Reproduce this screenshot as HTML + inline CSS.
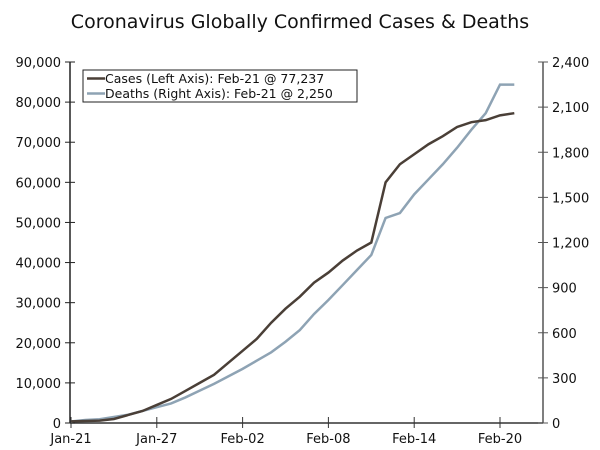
<!DOCTYPE html>
<html><head><meta charset="utf-8"><style>body{margin:0;background:#fff}svg{display:block;font-family:"DejaVu Sans","Liberation Sans",sans-serif}</style></head>
<body>
<svg id="c" width="600" height="450">
<text x="300" y="28" text-anchor="middle" font-size="19" fill="#111">Coronavirus Globally Confirmed Cases &amp; Deaths</text>
</svg>
<script>
const dates=["Jan-21","Jan-27","Feb-02","Feb-08","Feb-14","Feb-20"];
const leftTicks=[0,10000,20000,30000,40000,50000,60000,70000,80000,90000];
const rightTicks=[0,300,600,900,1200,1500,1800,2100,2400];
const cases=[400,500,600,1000,2000,3000,4500,6000,8000,10000,12000,15000,18000,21000,25000,28500,31500,35000,37500,40500,43000,45000,60000,64500,67000,69500,71500,73800,75000,75500,76700,77237];
const deaths=[10,20,25,40,55,80,105,130,170,215,260,310,360,415,470,540,618,725,818,917,1017,1117,1363,1396,1520,1620,1720,1830,1950,2060,2250,2250];
const svg=document.getElementById('c');const NS='http://www.w3.org/2000/svg';
const L=70,R=543,T=62,B=423;
const x=d=>L+1+d*14.3;
const yl=v=>B-(v/90000)*(B-T);
const yr=v=>B-(v/2400)*(B-T);
function mk(t,a,p){const e=document.createElementNS(NS,t);for(const k in a)e.setAttribute(k,a[k]);(p||svg).appendChild(e);return e;}
const ax=mk('g',{});


mk('line',{x1:L,y1:T,x2:L,y2:B,stroke:'#222','stroke-width':1.5},ax);
mk('line',{x1:R,y1:T,x2:R,y2:B,stroke:'#555','stroke-width':1.5},ax);
mk('line',{x1:L,y1:B,x2:R,y2:B,stroke:'#333','stroke-width':1.5},ax);
leftTicks.forEach(v=>{mk('line',{x1:L-5,y1:yl(v),x2:L+5,y2:yl(v),stroke:'#222'},ax);
const t=mk('text',{x:L-9,y:yl(v)+5,'text-anchor':'end','font-size':13,fill:'#111'},ax);t.textContent=v.toLocaleString('en-US');

});
rightTicks.forEach(v=>{mk('line',{x1:R-5,y1:yr(v),x2:R+5,y2:yr(v),stroke:'#555'},ax);
const t=mk('text',{x:R+9,y:yr(v)+5,'font-size':13,fill:'#111'},ax);t.textContent=v.toLocaleString('en-US');

});
dates.forEach((d,i)=>{const xx=x(i*6);mk('line',{x1:xx,y1:B-6,x2:xx,y2:B+5,stroke:'#333'},ax);
const t=mk('text',{x:xx,y:B+20,'text-anchor':'middle','font-size':13,fill:'#111'},ax);t.textContent=d;

});
const pd=deaths.map((v,i)=>x(i)+','+yr(v)).join(' ');
const p2=mk('polyline',{points:pd,fill:'none',stroke:'#8ea3b4','stroke-width':2.5});


const pc=cases.map((v,i)=>x(i)+','+yl(v)).join(' ');
const p1=mk('polyline',{points:pc,fill:'none',stroke:'#4a3f37','stroke-width':2.5});


const lg=mk('g',{});


mk('rect',{x:83,y:70,width:274,height:32,fill:'#fff',stroke:'#222'},lg);
mk('line',{x1:87,y1:78.5,x2:105,y2:78.5,stroke:'#4a3f37','stroke-width':2.5},lg);
mk('line',{x1:87,y1:93.5,x2:105,y2:93.5,stroke:'#8ea3b4','stroke-width':2.5},lg);
let t=mk('text',{x:105,y:83,'font-size':12.5,fill:'#111'},lg);t.textContent='Cases (Left Axis): Feb-21 @ 77,237';


t=mk('text',{x:105,y:98,'font-size':12.5,fill:'#111'},lg);t.textContent='Deaths (Right Axis): Feb-21 @ 2,250';


</script>
</body></html>
